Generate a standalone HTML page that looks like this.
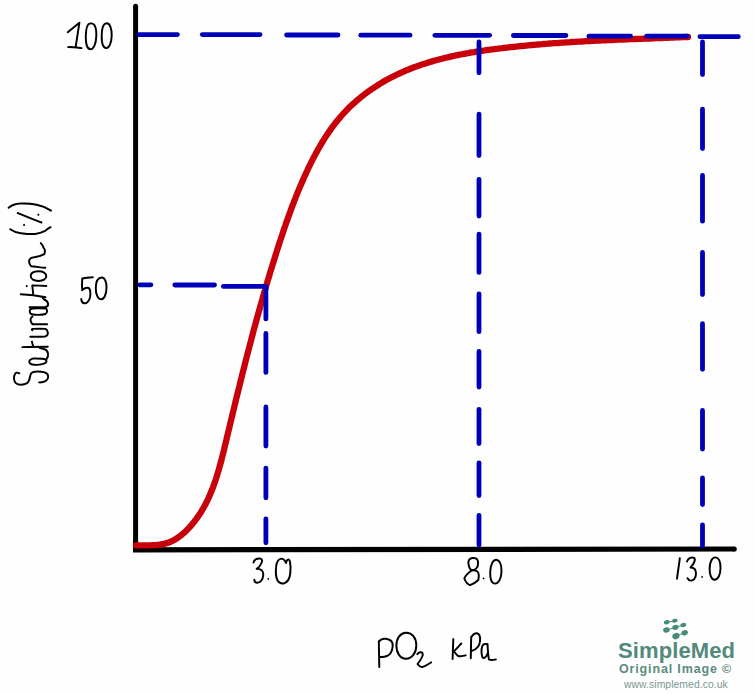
<!DOCTYPE html>
<html><head><meta charset="utf-8"><style>
html,body{margin:0;padding:0;background:#fff;}
body{width:755px;height:694px;overflow:hidden;position:relative;}
svg{position:absolute;left:0;top:0;}
.lg{position:absolute;font-family:"Liberation Sans",sans-serif;white-space:nowrap;line-height:1;}
</style></head><body>
<svg width="755" height="694" viewBox="0 0 755 694">
<rect width="755" height="694" fill="#fefefe"/>
<g fill="none" stroke="#000" stroke-width="5">
<path d="M135.6,6.2 L135.6,547" stroke-linecap="round"/>
<path d="M135.6,540 L135.6,552"/>
<path d="M133,549.8 L734.2,549" stroke-width="5.2"/>
<circle cx="734.2" cy="549" r="2.6" fill="#000" stroke="none"/>
</g>
<path d="M136.0,545.4 L137.9,545.3 L140.0,545.3 L142.1,545.3 L144.2,545.3 L146.2,545.3 L148.3,545.3 L150.3,545.3 L152.3,545.2 L154.3,545.1 L156.3,545.0 L158.2,544.8 L160.1,544.5 L162.0,544.2 L163.9,543.9 L165.8,543.4 L167.6,542.9 L169.4,542.2 L171.1,541.5 L172.9,540.6 L174.6,539.7 L176.3,538.7 L177.9,537.6 L179.5,536.4 L181.1,535.2 L182.7,533.9 L184.2,532.6 L185.7,531.2 L187.1,529.8 L188.5,528.3 L189.9,526.9 L191.2,525.4 L192.5,523.8 L193.8,522.3 L195.0,520.7 L196.2,519.1 L197.4,517.5 L198.5,515.9 L199.6,514.2 L200.7,512.6 L201.7,510.9 L202.7,509.2 L203.7,507.5 L204.7,505.7 L205.6,504.0 L206.5,502.2 L207.4,500.5 L208.2,498.7 L209.0,496.8 L209.9,495.0 L210.6,493.2 L211.4,491.3 L212.1,489.5 L212.9,487.6 L213.6,485.7 L214.2,483.9 L214.9,482.0 L215.6,480.0 L216.2,478.1 L216.8,476.2 L217.4,474.3 L218.0,472.3 L218.6,470.4 L219.1,468.4 L219.7,466.5 L220.2,464.5 L220.8,462.5 L221.3,460.6 L221.8,458.6 L222.3,456.6 L222.8,454.7 L223.3,452.7 L223.8,450.7 L224.3,448.7 L224.7,446.7 L225.2,444.7 L225.7,442.8 L226.2,440.8 L226.6,438.8 L227.1,436.8 L227.6,434.9 L228.0,432.9 L228.5,430.9 L229.0,429.0 L229.5,427.0 L229.9,425.0 L230.4,423.1 L230.9,421.1 L231.3,419.2 L231.8,417.2 L232.3,415.3 L232.7,413.3 L233.2,411.4 L233.7,409.4 L234.2,407.5 L234.6,405.5 L235.1,403.6 L235.6,401.6 L236.0,399.7 L236.5,397.8 L237.0,395.8 L237.5,393.9 L237.9,392.0 L238.4,390.0 L238.9,388.1 L239.4,386.2 L239.8,384.3 L240.3,382.3 L240.8,380.4 L241.3,378.5 L241.8,376.6 L242.2,374.6 L242.7,372.7 L243.2,370.8 L243.7,368.9 L244.2,367.0 L244.7,365.0 L245.1,363.1 L245.6,361.2 L246.1,359.3 L246.6,357.4 L247.1,355.5 L247.6,353.6 L248.1,351.6 L248.6,349.7 L249.1,347.8 L249.6,345.9 L250.1,344.0 L250.6,342.1 L251.1,340.2 L251.6,338.3 L252.1,336.4 L252.6,334.5 L253.1,332.6 L253.6,330.6 L254.1,328.7 L254.6,326.8 L255.2,324.9 L255.7,323.0 L256.2,321.1 L256.7,319.2 L257.2,317.3 L257.8,315.4 L258.3,313.5 L258.8,311.6 L259.4,309.7 L259.9,307.8 L260.4,305.9 L261.0,303.9 L261.5,302.0 L262.1,300.1 L262.6,298.2 L263.2,296.3 L263.7,294.4 L264.3,292.5 L264.8,290.6 L265.4,288.7 L265.9,286.7 L266.5,284.8 L267.1,282.9 L267.6,281.0 L268.2,279.1 L268.8,277.2 L269.4,275.3 L269.9,273.3 L270.5,271.4 L271.1,269.5 L271.7,267.6 L272.3,265.6 L272.9,263.7 L273.5,261.8 L274.1,259.9 L274.7,257.9 L275.3,256.0 L275.9,254.1 L276.5,252.2 L277.1,250.2 L277.7,248.3 L278.4,246.4 L279.0,244.4 L279.6,242.5 L280.3,240.5 L280.9,238.6 L281.5,236.7 L282.2,234.7 L282.8,232.8 L283.5,230.9 L284.1,228.9 L284.8,227.0 L285.5,225.0 L286.1,223.1 L286.8,221.2 L287.5,219.3 L288.2,217.3 L288.9,215.4 L289.6,213.5 L290.3,211.6 L291.0,209.6 L291.7,207.7 L292.4,205.8 L293.2,203.9 L293.9,202.0 L294.6,200.1 L295.4,198.2 L296.1,196.3 L296.9,194.4 L297.6,192.5 L298.4,190.6 L299.2,188.8 L300.0,186.9 L300.8,185.0 L301.6,183.2 L302.4,181.3 L303.2,179.5 L304.0,177.6 L304.8,175.8 L305.7,174.0 L306.5,172.2 L307.4,170.3 L308.2,168.5 L309.1,166.7 L310.0,164.9 L310.8,163.2 L311.7,161.4 L312.6,159.6 L313.5,157.8 L314.5,156.1 L315.4,154.4 L316.3,152.6 L317.3,150.9 L318.2,149.2 L319.2,147.5 L320.2,145.8 L321.2,144.1 L322.2,142.4 L323.2,140.7 L324.2,139.1 L325.3,137.4 L326.3,135.8 L327.4,134.2 L328.5,132.6 L329.6,131.0 L330.7,129.4 L331.8,127.8 L333.0,126.3 L334.1,124.7 L335.3,123.2 L336.5,121.6 L337.8,120.1 L339.0,118.6 L340.3,117.1 L341.5,115.7 L342.8,114.2 L344.1,112.8 L345.5,111.3 L346.8,109.9 L348.2,108.5 L349.6,107.1 L351.0,105.8 L352.5,104.4 L354.0,103.1 L355.5,101.8 L357.0,100.4 L358.5,99.2 L360.0,97.9 L361.6,96.6 L363.2,95.4 L364.8,94.1 L366.4,92.9 L368.0,91.7 L369.7,90.6 L371.3,89.4 L373.0,88.3 L374.7,87.2 L376.4,86.1 L378.1,85.0 L379.8,83.9 L381.5,82.9 L383.3,81.8 L385.0,80.8 L386.8,79.8 L388.6,78.9 L390.3,77.9 L392.1,77.0 L393.9,76.1 L395.7,75.2 L397.5,74.3 L399.4,73.5 L401.2,72.6 L403.0,71.8 L404.9,71.0 L406.7,70.2 L408.5,69.5 L410.4,68.7 L412.3,68.0 L414.1,67.3 L416.0,66.6 L417.9,65.9 L419.8,65.3 L421.7,64.6 L423.6,64.0 L425.5,63.4 L427.4,62.8 L429.3,62.2 L431.2,61.6 L433.1,61.1 L435.0,60.5 L437.0,60.0 L438.9,59.5 L440.8,59.0 L442.8,58.5 L444.7,58.0 L446.7,57.5 L448.6,57.1 L450.6,56.6 L452.6,56.2 L454.5,55.7 L456.5,55.3 L458.4,54.9 L460.4,54.5 L462.4,54.2 L464.4,53.8 L466.3,53.4 L468.3,53.1 L470.3,52.7 L472.3,52.4 L474.3,52.1 L476.3,51.7 L478.3,51.4 L480.2,51.1 L482.2,50.8 L484.2,50.5 L486.2,50.2 L488.2,50.0 L490.2,49.7 L492.2,49.4 L494.2,49.2 L496.2,48.9 L498.2,48.7 L500.2,48.4 L502.2,48.2 L504.2,47.9 L506.2,47.7 L508.2,47.5 L510.2,47.2 L512.2,47.0 L514.2,46.8 L516.2,46.6 L518.1,46.4 L520.1,46.2 L522.1,46.0 L524.1,45.8 L526.1,45.6 L528.1,45.4 L530.1,45.2 L532.1,45.0 L534.1,44.9 L536.1,44.7 L538.1,44.5 L540.1,44.3 L542.1,44.2 L544.1,44.0 L546.1,43.9 L548.0,43.7 L550.0,43.5 L552.0,43.4 L554.0,43.2 L556.0,43.1 L558.0,43.0 L560.0,42.8 L562.0,42.7 L564.0,42.6 L566.0,42.4 L568.0,42.3 L570.0,42.2 L572.0,42.0 L574.0,41.9 L575.9,41.8 L577.9,41.7 L579.9,41.6 L581.9,41.5 L583.9,41.3 L585.9,41.2 L587.9,41.1 L589.9,41.0 L591.9,40.9 L593.9,40.8 L595.9,40.7 L597.9,40.6 L599.9,40.5 L601.9,40.4 L603.9,40.3 L605.9,40.3 L607.9,40.2 L609.9,40.1 L611.9,40.0 L613.9,39.9 L615.9,39.8 L617.8,39.7 L619.8,39.6 L621.8,39.6 L623.8,39.5 L625.8,39.4 L627.8,39.3 L629.8,39.2 L631.8,39.2 L633.8,39.1 L635.8,39.0 L637.8,38.9 L639.8,38.8 L641.8,38.8 L643.9,38.7 L645.9,38.6 L647.9,38.5 L649.9,38.5 L651.9,38.4 L653.9,38.3 L655.9,38.2 L657.9,38.1 L659.9,38.1 L661.9,38.0 L663.9,37.9 L665.9,37.8 L667.9,37.8 L669.9,37.7 L671.9,37.6 L673.9,37.5 L675.9,37.4 L678.0,37.4 L680.0,37.3 L682.0,37.2 L684.0,37.1 L686.0,37.0 L688.0,37.0" fill="none" stroke="#c8000a" stroke-width="6.3" stroke-linecap="round" stroke-linejoin="round"/>
<g fill="none" stroke="#0000b8" stroke-width="4.8" stroke-linecap="round">
<path d="M138.8,34.6 L177.4,34.6"/>
<path d="M202.3,34.6 L260.0,34.6"/>
<path d="M286.6,35.0 L338.0,35.0"/>
<path d="M360.8,35.2 L410.0,35.2"/>
<path d="M434.9,35.3 L489.6,35.3"/>
<path d="M513.4,35.5 L565.9,35.5"/>
<path d="M588.9,36.2 L630.6,36.2"/>
<path d="M646.6,36.2 L687.4,36.2"/>
<path d="M699.9,36.7 L738.3,36.7"/>
<path d="M139.8,284.8 L150.9,284.8"/>
<path d="M174.8,285.0 L214.5,285.0"/>
<path d="M223.4,286.4 L265.8,286.4"/>
<path d="M265.9,286.9 L265.9,318.9"/>
<path d="M265.9,333.4 L265.9,372.4"/>
<path d="M265.9,407.0 L265.9,446.0"/>
<path d="M265.9,468.1 L265.9,497.8"/>
<path d="M265.9,518.8 L265.9,542.8"/>
<path d="M479.0,41.9 L479.0,72.8"/>
<path d="M479.0,114.2 L479.0,155.5"/>
<path d="M479.0,179.3 L479.0,216.0"/>
<path d="M479.0,234.2 L479.0,272.4"/>
<path d="M479.0,293.9 L479.0,331.7"/>
<path d="M479.0,351.4 L479.0,387.0"/>
<path d="M479.0,409.3 L479.0,443.6"/>
<path d="M479.0,462.8 L479.0,495.6"/>
<path d="M479.0,515.3 L479.0,545.1"/>
<path d="M702.5,42.0 L702.5,74.6"/>
<path d="M702.5,109.1 L702.5,148.6"/>
<path d="M702.5,175.4 L702.5,221.2"/>
<path d="M702.5,252.4 L702.5,294.6"/>
<path d="M702.5,323.7 L702.5,369.3"/>
<path d="M702.5,410.4 L702.5,449.0"/>
<path d="M702.5,478.0 L702.5,504.5"/>
<path d="M702.5,524.9 L702.5,545.9"/>
</g>
<g fill="none" stroke="#000" stroke-width="1.95" stroke-linecap="round" stroke-linejoin="round">
<path d="M67.7,32.2 L79.4,22.7 L75.6,47.3 M68.2,47.1 C72,47 77,47.6 81.5,48.1"/>
<path d="M90,23.5 C95,22.5 96.5,28 96.3,36 C96.1,44 93.5,49.2 90.5,49.2 C87,49.2 85.6,44 85.8,36 C86,28 87.5,23.8 90,23.5 Z"/>
<path d="M106.5,23.3 C110,23 111.8,29 111.7,35.5 C111.6,43 109,48.2 106.3,48.1 C103,48 101.6,42 101.7,35.5 C101.8,29 103.5,23.5 106.5,23.3 Z"/>
<path d="M92.8,277.3 C89,277.4 85,277.8 82.3,278.5 C82,282 81.9,287 82.2,290.2 C84,288 87.5,287.3 89,288.2 C91,290 90.5,297 89.5,299 C88.3,302 86,303.5 84.1,303.3 C82.5,303 81.3,301 81.3,299"/>
<path d="M101.5,277.5 C104.5,277.3 106.8,282 106.5,288 C106.3,295 104,299.3 101.2,299.3 C97.8,299.3 95.7,294 95.8,288 C95.9,281 98.5,277.7 101.5,277.5 Z"/>
<path d="M253.5,562.6 C254,559.5 257.5,558 260.5,558.6 C264,559.5 261,566 256.7,568.9 C260,568.8 263.5,570 263.3,574.5 C263,580.5 260,583 256.7,582.8 C255,582.6 254.3,581 254.3,579.6"/>
<path d="M286.1,563 C285,560.5 283.5,558.6 281.3,558.6 C278.5,558.8 276.8,562 276.2,566 C275.6,571 275.8,577 277.5,580.5 C279,583 282,583.8 284.5,583.2 C287.5,582 289.5,578.5 290.2,574 C290.8,569.5 290.6,564 289.8,561 C289.3,559.5 288.3,559.4 287.3,559.8 C286.6,560.6 286.2,561.8 286.1,563"/>
<path d="M478,562 C478,559 476,557.8 472.5,558 C469,558.3 468,561 468.5,564 C469,567 470.5,570 472,570.2 C475,570.3 478,568 478,564 Z"/>
<path d="M472,570.2 C468,573 465,576 464.3,578.5 C465.5,581.5 468,584.5 470,585.2 C473,584 476.8,581.5 478.3,580 C479.2,576 478.3,572.5 477.5,571.5 C476,570.5 474,570 472,570.2"/>
<path d="M496.5,559.8 C499.5,560.5 501.5,565 501.5,571 C501.5,578 498.8,583.6 495,583.6 C491.5,583.6 490,579 490.2,572 C490.4,565 493,559.5 496.5,559.8 Z"/>
<path d="M679.8,558.3 C679,565 677.8,572 677,578.7"/>
<path d="M687,561.5 C688,558 692,556.8 694,557.8 C696,559 694,564 690.5,567.5 C693.5,567.5 696,569 696,573.5 C696,579 693,580.8 690.8,580.6 C689,580.4 688,579.5 687.5,578.2"/>
<path d="M715.5,557.4 C719,557.8 720.6,562 720.5,568.5 C720.4,575 718,579.8 714.5,579.7 C711.5,579.6 709.5,575 709.6,568.5 C709.7,562 712,557.2 715.5,557.4 Z"/>
<path d="M378.8,641.1 C379,650 379.1,660 379.3,667.1 M378.9,641.5 C381,639 384,638.5 386,638.8 C391,639.5 393,642 392.7,646 C392.3,651 390,655 387,656 C384.5,657 382,657.2 380.5,657"/>
<path d="M406,632.8 C412,632.5 416.3,638 416.3,645.5 C416.3,653 412,658.7 406,658.7 C400,658.7 396.4,653 396.4,645.5 C396.4,638 400.5,633 406,632.8 Z"/>
<path d="M417.3,654.1 C419,652 421.5,651.8 422.5,653 C423.5,655 421.5,659 417.5,664 C419,666 420.5,667.2 422,667 C425,666.5 428,664.5 431.2,662.4"/>
<path d="M453.3,639.1 C453,646 452.8,653 452.6,659 M461.3,643.5 C459,646 456,649 454.1,651.5 C455.5,653.5 457,655.5 458.5,656.2 C461,656.5 463.5,655.8 465.7,655.4"/>
<path d="M471.2,636.8 C471,644 470.9,652 470.8,658.2 M471.4,637 C473,634.5 475,633 477,633.3 C479.5,633.8 480.4,637 480,641 C479.7,645 477,649 472.4,650.7"/>
<path d="M487.7,645 C486,643.3 483.5,643.5 482.3,646 C481.2,649 481.3,655 482.5,657.3 C484,659 486.5,657 487.8,653 M487.5,644 C487.8,650 488.2,656 489,659.5 C491,660.5 493.5,660 495.9,659.4"/>
<path d="M19.3,373.3 C17.5,372.3 15.8,372.3 15,374 C13.5,376.5 13.5,381 16,383.3 C18.5,385.3 24,385 27,383.2 C29.5,381.5 29.8,377 30.6,374.5 C31.5,372.2 33.5,371.5 37,371.5 C41,371.4 45,371.8 47.3,374 C49,376 48.2,379.5 45.4,381.2 C43.5,382.2 41,382.5 39.1,382.4"/>
<path d="M32.7,358.6 C38,358.5 43,358.4 45.5,359.5 C47.2,360.5 46.8,362.8 44,363.6 C40,364.8 35,365.2 31.5,364.3 C29,363.5 28.8,361 30,360 C30.8,359.2 31.8,358.8 32.7,358.6 M46.2,359.8 C47.5,358 48.5,356 48,353.5 C47.5,351 46,349.5 44,349 C42,348.5 40.5,348.2 39.5,347.9"/>
<path d="M22.4,347.1 C30,346.8 40,346.7 47.8,346.7 M31.9,341.6 C32.3,343.5 32.8,345 33.1,346.3"/>
<path d="M30.3,336.7 C36,336.8 41,336.8 44.9,336.5 C47.3,336 48,334 47.8,332.5 C47.5,330.5 46.5,329.3 45.5,328.9 C41,328.7 36,328.8 32.5,328.9 C31.8,329.3 31.8,330 32.2,330.2"/>
<path d="M47.1,324.3 C42,324.2 37,324.2 32.5,324.3 M32.5,324.1 C30.6,322.5 30.2,319.5 30.8,318.5 C31.2,317.5 31.8,317 32.5,316.6"/>
<path d="M46,308.5 C47.5,309.5 47.5,313 45.5,314 C42,314.9 36,315 31.5,314.3 C29.5,313.5 29.3,310 30.5,309 C32,308.3 36,308.2 40,308.3 C43,308.3 45,308.3 46,308.5 M29.6,307.2 C35,307.1 41,307.1 45.5,307 C47.5,306.5 48.3,305 48.1,303.8 C47.8,302 46.5,300.5 44.2,299.5 C43,298.5 42.5,297.5 42.3,296.8"/>
<path d="M20.8,294.2 C29,294.5 38,295.6 45.5,297.2 M32.3,285.6 C32.6,288 32.8,290.5 33.2,293.5 M32.3,285.4 C37,285.5 42,285.7 46.3,286"/>
<path d="M26.7,286 l0.1,0.1"/>
<path d="M38.5,271.3 C43,271.2 46.3,273.2 46.3,276.1 C46.3,279 43,280.9 38.5,280.9 C34,280.9 30.7,279 30.7,276.1 C30.7,273.2 34,271.4 38.5,271.3 Z"/>
<path d="M45.3,267.8 C40,267.2 35,266.8 31.2,266.3 C29.5,264.5 28.8,261.5 29.5,259.5 C30.5,257.8 32.5,257.3 34.2,257.2 C38,256.5 42,255.5 44.3,254.2 C45.2,251.5 44.8,249 43.8,248.1 C43,246 42,244.3 40.8,243.1"/>
<path d="M8.6,207.8 C11.5,205 16,203.7 20.8,203.5 C26,203.2 31,203.6 36.7,204.7 C42,205.8 47,207.8 51,210.6"/>
<path d="M17.7,213 C25,216 33,219.3 41.5,222.5"/>
<path d="M38.3,214.6 l0.1,0.1 M24,224.9 l0.1,0.1"/>
<path d="M10.2,229.2 C13.5,231.5 17,232.8 20.8,233.2 C26,233.8 31,234.2 35.1,234 C39,233.5 42,232.5 44.6,231.2 C46.5,229.8 48.5,228.2 50.6,227.2"/>
</g>
<g fill="none" stroke="#000" stroke-width="1.7" stroke-linecap="round">
<path d="M268.2,578.8 l0.1,0.1 M483.6,578.4 l0.1,0.1 M702.1,576.9 l0.1,0.1"/>
</g>
<g fill="#468c73" stroke="#468c73">
<path d="M666.7,622.3 L674.9,620.7 M666.4,630 L675.4,627.4 L683.3,625 M675.9,636.1 L684.7,632.7" stroke-width="1" fill="none"/>
<g stroke="none">
<ellipse transform="rotate(-15 666.7 622.3)" cx="666.7" cy="622.3" rx="2.9" ry="2.1"/>
<ellipse transform="rotate(-15 674.9 620.7)" cx="674.9" cy="620.7" rx="2.8" ry="1.9"/>
<ellipse transform="rotate(-15 666.4 630)" cx="666.4" cy="630" rx="3.3" ry="2.6"/>
<ellipse transform="rotate(-15 675.4 627.4)" cx="675.4" cy="627.4" rx="3.2" ry="2.4"/>
<ellipse transform="rotate(-15 683.3 625)" cx="683.3" cy="625" rx="2.9" ry="2.1"/>
<ellipse transform="rotate(-20 675.9 636.1)" cx="675.9" cy="636.1" rx="3.7" ry="3.1"/>
<ellipse transform="rotate(-20 684.7 632.7)" cx="684.7" cy="632.7" rx="3.3" ry="2.6"/>
</g>
</g>
</svg>
<div class="lg" style="left:618px;top:640px;font-size:22px;font-weight:bold;letter-spacing:0.1px;color:#528a7b;">SimpleMed</div>
<div class="lg" style="left:619px;top:663px;font-size:12.5px;font-weight:bold;letter-spacing:0.85px;color:#5b8b7e;">Original Image &#169;</div>
<div class="lg" style="left:624px;top:680px;font-size:10.4px;letter-spacing:0.05px;color:#7a9990;">www.simplemed.co.uk</div>
</body></html>
